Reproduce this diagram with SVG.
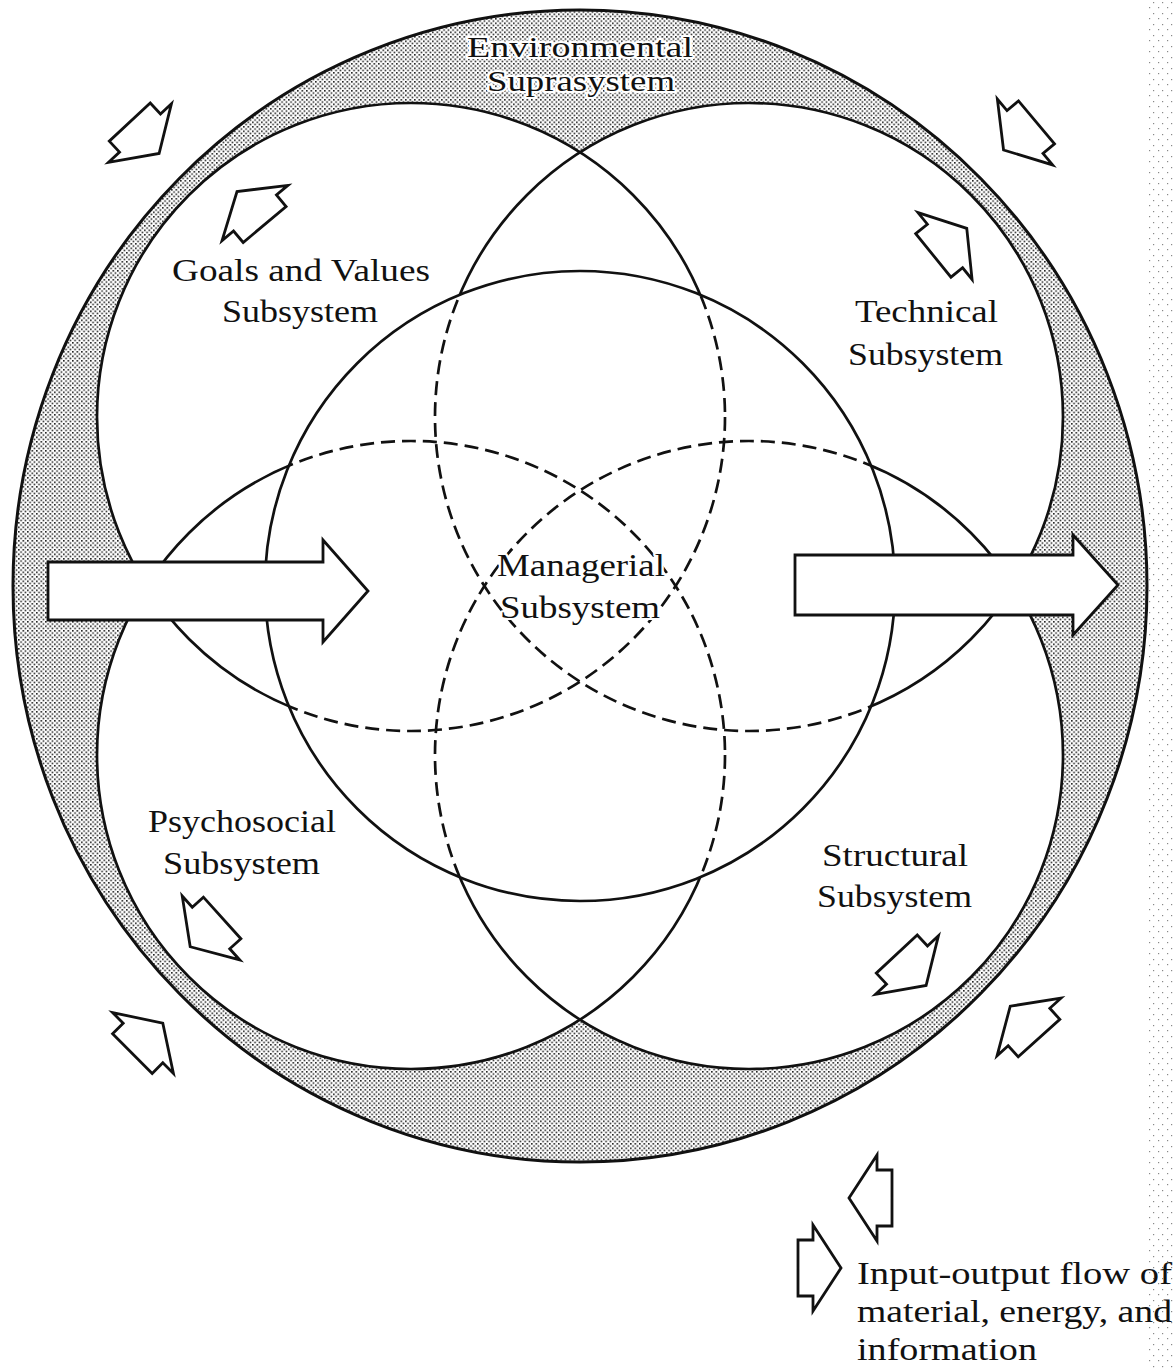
<svg xmlns="http://www.w3.org/2000/svg" xmlns:xlink="http://www.w3.org/1999/xlink" width="1176" height="1371" viewBox="0 0 1176 1371">
  <style>
    .lbl { font-family: "Liberation Serif", "DejaVu Serif", serif; font-size: 31px; fill: #111; }
    .env { font-size: 29px; }
    .halo { paint-order: stroke; stroke: #fff; stroke-width: 4px; stroke-linejoin: round; }
    .sub { fill: none; stroke: #111; stroke-width: 2.7; }
    .dash { fill: none; stroke: #111; stroke-width: 2.7; stroke-dasharray: 14 7; }
    .arrow { fill: #fff; stroke: #111; stroke-width: 2.8; stroke-linejoin: miter; }
  </style>
  <defs>
    <pattern id="dots" width="4.5" height="4.5" patternUnits="userSpaceOnUse">
      <rect width="4.5" height="4.5" fill="#fff"/>
      <rect x="0" y="0" width="1.6" height="1.6" fill="#222"/>
      <rect x="2.25" y="2.25" width="1.6" height="1.6" fill="#222"/>
    </pattern>
    <pattern id="speck" width="9" height="11" patternUnits="userSpaceOnUse">
      <rect x="1" y="2" width="1.2" height="1.2" fill="#555"/>
      <rect x="6" y="7" width="1.2" height="1.2" fill="#555"/>
    </pattern>
    <clipPath id="inM">
      <circle cx="580" cy="586" r="315"/>
    </clipPath>
    <mask id="outM" maskUnits="userSpaceOnUse" x="0" y="0" width="1176" height="1371">
      <rect x="0" y="0" width="1176" height="1371" fill="#fff"/>
      <circle cx="580" cy="586" r="315" fill="#000"/>
    </mask>
    <polygon id="sa" points="-15,-28 0,-28 0,-43 28,0 0,43 0,28 -15,28"/>
  </defs>

  <rect x="0" y="0" width="1176" height="1371" fill="#fff"/>
  <rect x="1148" y="0" width="28" height="1371" fill="url(#speck)" opacity="0.7"/>

  <!-- Environmental suprasystem -->
  <g id="environment">
    <ellipse cx="580" cy="586" rx="567" ry="576" fill="url(#dots)" stroke="#111" stroke-width="3"/>
  </g>

  <!-- white interiors of the subsystems -->
  <g id="interiors" fill="#fff">
    <circle cx="411" cy="417" r="314"/>
    <circle cx="749" cy="417" r="314"/>
    <circle cx="411" cy="755" r="314"/>
    <circle cx="749" cy="755" r="314"/>
  </g>

  <g id="goals-values">
    <circle class="sub" cx="411" cy="417" r="314" mask="url(#outM)"/>
    <circle class="dash" cx="411" cy="417" r="314" clip-path="url(#inM)"/>
    <text class="lbl" x="172" y="281" textLength="258" lengthAdjust="spacingAndGlyphs">Goals and Values</text>
    <text class="lbl" x="222" y="322" textLength="156" lengthAdjust="spacingAndGlyphs">Subsystem</text>
  </g>

  <g id="technical">
    <circle class="sub" cx="749" cy="417" r="314" mask="url(#outM)"/>
    <circle class="dash" cx="749" cy="417" r="314" clip-path="url(#inM)"/>
    <text class="lbl" x="855" y="322" textLength="143" lengthAdjust="spacingAndGlyphs">Technical</text>
    <text class="lbl" x="848" y="365" textLength="155" lengthAdjust="spacingAndGlyphs">Subsystem</text>
  </g>

  <g id="psychosocial">
    <circle class="sub" cx="411" cy="755" r="314" mask="url(#outM)"/>
    <circle class="dash" cx="411" cy="755" r="314" clip-path="url(#inM)"/>
    <text class="lbl" x="148" y="832" textLength="188" lengthAdjust="spacingAndGlyphs">Psychosocial</text>
    <text class="lbl" x="163" y="874" textLength="157" lengthAdjust="spacingAndGlyphs">Subsystem</text>
  </g>

  <g id="structural">
    <circle class="sub" cx="749" cy="755" r="314" mask="url(#outM)"/>
    <circle class="dash" cx="749" cy="755" r="314" clip-path="url(#inM)"/>
    <text class="lbl" x="822" y="866" textLength="146" lengthAdjust="spacingAndGlyphs">Structural</text>
    <text class="lbl" x="817" y="907" textLength="155" lengthAdjust="spacingAndGlyphs">Subsystem</text>
  </g>

  <g id="managerial">
    <circle class="sub" cx="580" cy="586" r="315"/>
    <text class="lbl halo" x="497" y="576" textLength="168" lengthAdjust="spacingAndGlyphs">Managerial</text>
    <text class="lbl halo" x="500" y="618" textLength="160" lengthAdjust="spacingAndGlyphs">Subsystem</text>
  </g>

  <g id="environment-label">
    <text class="lbl env halo" x="467" y="57" textLength="226" lengthAdjust="spacingAndGlyphs">Environmental</text>
    <text class="lbl env halo" x="487" y="91" textLength="188" lengthAdjust="spacingAndGlyphs">Suprasystem</text>
  </g>

  <!-- input-output flows -->
  <g id="connectors">
    <polygon class="arrow" points="48,562 323,562 323,540 368,591 323,642 323,620 48,620"/>
    <polygon class="arrow" points="795,555 1073,555 1073,535 1118,585 1073,635 1073,615 795,615"/>
    <use href="#sa" class="arrow" transform="translate(140,133) rotate(47)"/>
    <use href="#sa" class="arrow" transform="translate(255,213) rotate(-130)"/>
    <use href="#sa" class="arrow" transform="translate(945,246) rotate(-39)"/>
    <use href="#sa" class="arrow" transform="translate(1025,132) rotate(140)"/>
    <use href="#sa" class="arrow" transform="translate(211,928) rotate(138)"/>
    <use href="#sa" class="arrow" transform="translate(143,1043) rotate(-45)"/>
    <use href="#sa" class="arrow" transform="translate(907,965) rotate(47)"/>
    <use href="#sa" class="arrow" transform="translate(1029,1027) rotate(-132)"/>
    <use href="#sa" class="arrow" transform="translate(877,1198) rotate(180)"/>
  </g>

  <g id="legend">
    <use href="#sa" class="arrow" transform="translate(813,1268)"/>
    <text class="lbl" x="857" y="1284" textLength="315" lengthAdjust="spacingAndGlyphs">Input-output flow of</text>
    <text class="lbl" x="857" y="1322" textLength="315" lengthAdjust="spacingAndGlyphs">material, energy, and</text>
    <text class="lbl" x="857" y="1360" textLength="180" lengthAdjust="spacingAndGlyphs">information</text>
  </g>
</svg>
